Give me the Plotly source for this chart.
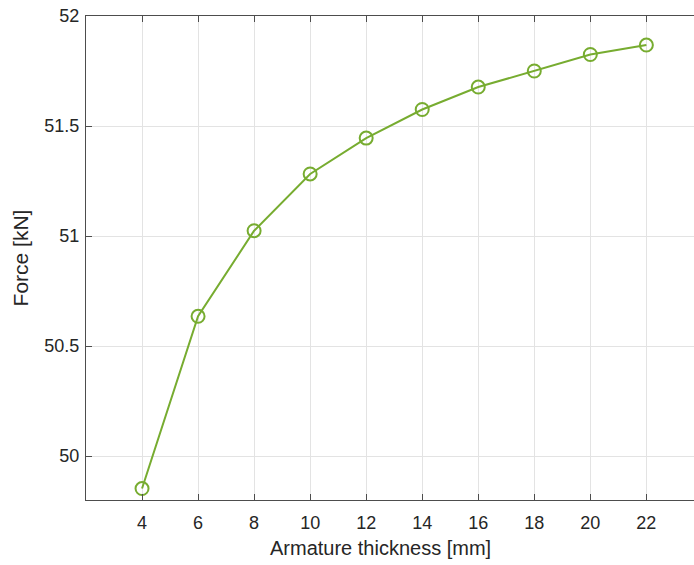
import plotly.graph_objects as go

# Armature thickness sweep and resulting force
thickness_mm = [4, 6, 8, 10, 12, 14, 16, 18, 20, 22]
force_kN = [49.852, 50.635, 51.024, 51.282, 51.445, 51.575, 51.677, 51.750, 51.825, 51.868]

x_ticks = [4, 6, 8, 10, 12, 14, 16, 18, 20, 22]
y_ticks = [50, 50.5, 51, 51.5, 52]
y_tick_text = ["50", "50.5", "51", "51.5", "52"]

line_color = "#77AC30"
axis_color = "#4d4d4d"
grid_color = "#e3e3e3"
text_color = "#262626"
font_family = "Liberation Sans, Arial, sans-serif"

fig = go.Figure()
fig.add_trace(go.Scatter(
    x=thickness_mm,
    y=force_kN,
    mode="lines+markers",
    line=dict(color=line_color, width=2),
    marker=dict(symbol="circle-open", size=13, color=line_color,
                line=dict(color=line_color, width=2)),
    showlegend=False,
))

fig.update_layout(
    width=694,
    height=565,
    margin=dict(l=86, r=0, t=16, b=65),
    paper_bgcolor="white",
    plot_bgcolor="white",
    font=dict(family=font_family, size=18, color=text_color),
)

fig.update_xaxes(
    range=[2, 23.70],
    tickvals=x_ticks,
    ticks="inside",
    ticklen=6,
    tickcolor=axis_color,
    showline=True,
    linecolor=axis_color,
    linewidth=1,
    mirror="ticks",
    showgrid=True,
    gridcolor=grid_color,
    gridwidth=1,
    zeroline=False,
    ticklabelstandoff=6,
    tickfont=dict(size=18, color=text_color),
)

fig.update_yaxes(
    range=[49.8, 52],
    tickvals=y_ticks,
    ticktext=y_tick_text,
    ticks="inside",
    ticklen=6,
    tickcolor=axis_color,
    showline=True,
    linecolor=axis_color,
    linewidth=1,
    mirror=False,
    showgrid=True,
    gridcolor=grid_color,
    gridwidth=1,
    zeroline=False,
    ticklabelstandoff=2,
    tickfont=dict(size=18, color=text_color),
    title=dict(text="Force [kN]", font=dict(size=21, color=text_color), standoff=10),
)

# x-axis title placed as an annotation so it sits slightly left of the axis centre
fig.add_annotation(
    text="Armature thickness [mm]",
    xref="paper", yref="paper",
    x=(380 - 86) / 608, y=-48 / 484,
    xanchor="center", yanchor="middle",
    showarrow=False,
    font=dict(size=20, color=text_color),
)

fig.write_html("out.html")
